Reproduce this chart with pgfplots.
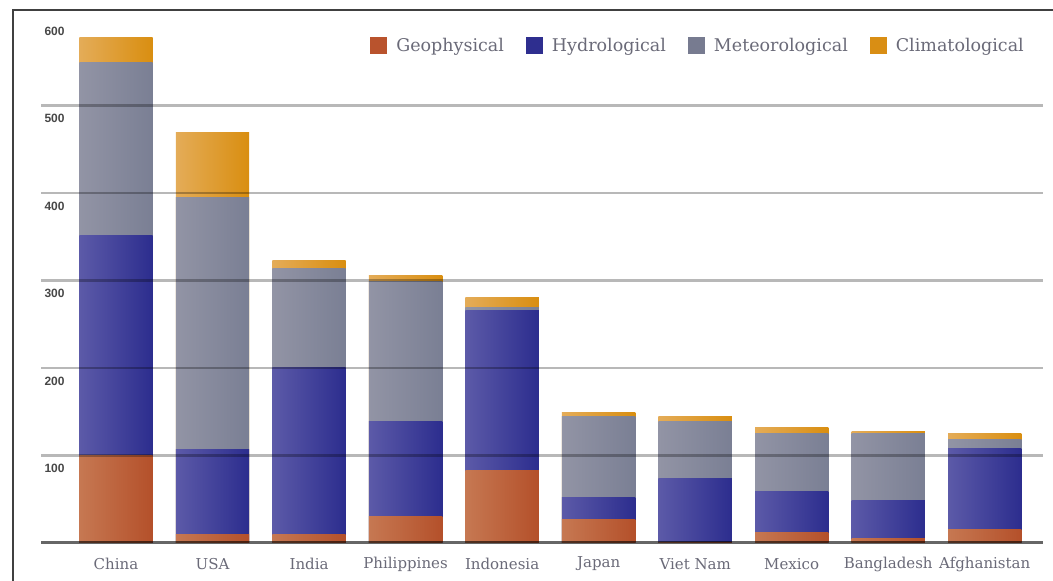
\documentclass[border=0pt]{standalone}
\usepackage{fontspec}
\setmainfont{DejaVu Serif}
\newfontfamily\tickfont{Liberation Sans}
\usepackage{pgfplots}
\pgfplotsset{compat=1.18}

\definecolor{geoL}{HTML}{C67852}
\definecolor{geoR}{HTML}{B4502A}
\definecolor{hydL}{HTML}{5C5AA8}
\definecolor{hydR}{HTML}{2C2D8E}
\definecolor{metL}{HTML}{9294A5}
\definecolor{metR}{HTML}{7A7F94}
\definecolor{cliL}{HTML}{E4AC58}
\definecolor{cliR}{HTML}{D98E10}
\definecolor{geo}{HTML}{B9532D}
\definecolor{hyd}{HTML}{2E2E8F}
\definecolor{met}{HTML}{777B90}
\definecolor{cli}{HTML}{D98E14}
\definecolor{txt}{HTML}{6A6A78}

% one stacked bar: x position, then the cumulative tops of
% Geophysical, Hydrological, Meteorological, Climatological
\newcommand\stackbar[5]{%
  \addplot[forget plot, left color=cliL, right color=cliR] coordinates {(#1,#5)};
  \addplot[forget plot, left color=metL, right color=metR] coordinates {(#1,#4)};
  \addplot[forget plot, left color=hydL, right color=hydR] coordinates {(#1,#3)};
  \addplot[forget plot, left color=geoL, right color=geoR] coordinates {(#1,#2)};
}

\begin{document}
\begin{tikzpicture}
\useasboundingbox (0,0) rectangle (1053pt,581pt);
\draw[line width=1.5pt, black!75] (13pt,0) -- (13pt,571pt) -- (1053pt,571pt);
\begin{axis}[
  at={(41pt,38pt)}, anchor=south west,
  scale only axis,
  width=1002pt, height=525pt,
  ybar, bar width=0.76, bar shift=0pt,
  every axis plot/.append style={draw=none},
  xmin=-0.777, xmax=9.604,
  ymin=0, ymax=600,
  xtick={0,...,9},
  xticklabels={China,USA,India,Philippines,Indonesia,Japan,Viet Nam,Mexico,Bangladesh,Afghanistan},
  x tick label style={font=\fontsize{15}{18}\selectfont, text=txt, anchor=center, yshift=-21pt},
  ytick={100,200,300,400,500},
  extra y ticks={600},
  extra y tick style={grid=none},
  /pgf/number format/assume math mode=true,
  yticklabel style={font=\tickfont\bfseries\fontsize{12}{14}\selectfont, text=black!72, anchor=west, xshift=0pt, yshift=-13pt},
  major tick length=0pt,
  ymajorgrids,
  grid style={line width=2.5pt, black, opacity=0.28},
  axis x line*=bottom,
  axis y line*=left,
  y axis line style={draw=none},
  x axis line style={line width=3pt, black, opacity=0.6, -},
  axis on top,
  legend columns=4,
  legend style={at={(1029pt-41pt,535pt-38pt)}, anchor=east, draw=none, fill=none,
    font=\fontsize{17.5}{21}\selectfont, text=txt,
    /tikz/every even column/.append style={column sep=20pt}},
  legend cell align=left,
]
\stackbar{0}{100}{351}{549}{578}
\stackbar{1}{9.5}{107.4}{394.6}{469.7}
\stackbar{2}{9.5}{201}{314}{322.6}
\stackbar{3}{30}{139}{299}{305.5}
\stackbar{4}{83.4}{265.5}{269.3}{280.4}
\stackbar{5}{27}{52}{145}{149.5}
\stackbar{6}{1}{74}{139}{145}
\stackbar{7}{12}{59}{125}{131.6}
\stackbar{8}{5}{48}{125}{127.5}
\stackbar{9}{15.6}{107.6}{118}{125}
\addlegendimage{legend image code/.code={\fill[geo] (0pt,-8.5pt) rectangle (17pt,8.5pt); \path (24pt,0pt);}}
\addlegendentry{Geophysical}
\addlegendimage{legend image code/.code={\fill[hyd] (0pt,-8.5pt) rectangle (17pt,8.5pt); \path (24pt,0pt);}}
\addlegendentry{Hydrological}
\addlegendimage{legend image code/.code={\fill[met] (0pt,-8.5pt) rectangle (17pt,8.5pt); \path (24pt,0pt);}}
\addlegendentry{Meteorological}
\addlegendimage{legend image code/.code={\fill[cli] (0pt,-8.5pt) rectangle (17pt,8.5pt); \path (24pt,0pt);}}
\addlegendentry{Climatological}
\end{axis}
\end{tikzpicture}
\end{document}
